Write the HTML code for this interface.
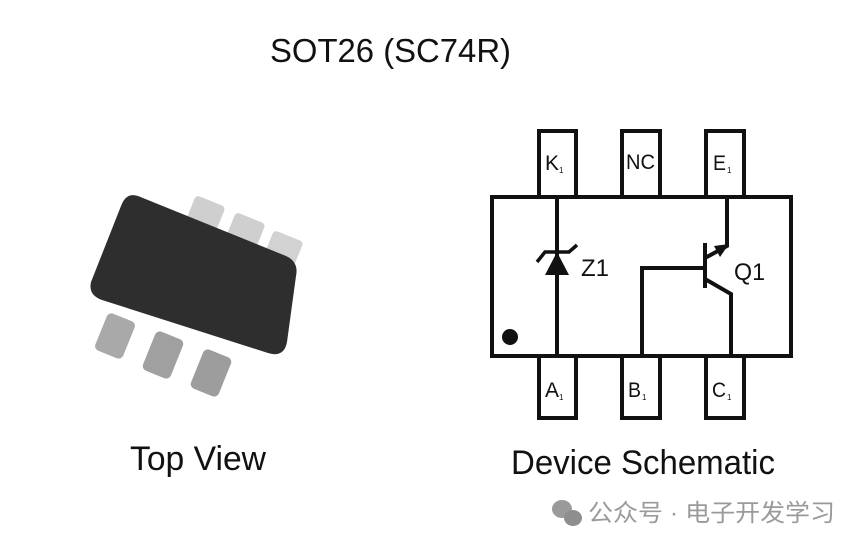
<!DOCTYPE html>
<html><head><meta charset="utf-8"><style>
html,body{margin:0;padding:0;background:#fff;}
svg{display:block;}
text{font-family:"Liberation Sans",Arial,sans-serif;}
</style></head><body>
<svg width="865" height="546" viewBox="0 0 865 546" xmlns="http://www.w3.org/2000/svg">
<rect width="865" height="546" fill="#fff"/>
<text x="270" y="62" font-size="33" textLength="241" lengthAdjust="spacingAndGlyphs" fill="#111">SOT26 (SC74R)</text>

<!-- chip photo -->
<g>
 <rect x="190" y="200" width="32" height="26" rx="4" fill="#cfcfcf" transform="rotate(22 206 213)"/>
 <rect x="230" y="217" width="32" height="26" rx="4" fill="#cfcfcf" transform="rotate(22 246 230)"/>
 <rect x="268" y="235" width="32" height="26" rx="4" fill="#d2d2d2" transform="rotate(22 284 248)"/>
 <rect x="100" y="316" width="30" height="40" rx="5" fill="#a9a9a9" transform="rotate(22 115 336)"/>
 <rect x="148" y="334" width="30" height="42" rx="5" fill="#a0a0a0" transform="rotate(22 163 355)"/>
 <rect x="196" y="352" width="30" height="42" rx="5" fill="#9d9d9d" transform="rotate(22 211 373)"/>
 <path d="M138,196 L286,256 Q299,262 296,276 L287,342 Q284,358 268,353 L102,300 Q88,295 91,282 L121,206 Q126,192 138,196 Z" fill="#2e2e2e"/>
</g>
<text x="130" y="470" font-size="34" textLength="136" lengthAdjust="spacingAndGlyphs" fill="#111">Top View</text>

<!-- schematic -->
<g fill="none" stroke="#111" stroke-width="4">
 <rect x="539" y="131" width="37" height="66" fill="#fff"/>
 <rect x="622" y="131" width="38" height="66" fill="#fff"/>
 <rect x="706" y="131" width="38" height="66" fill="#fff"/>
 <rect x="539" y="356" width="37" height="62" fill="#fff"/>
 <rect x="622" y="356" width="38" height="62" fill="#fff"/>
 <rect x="706" y="356" width="38" height="62" fill="#fff"/>
 <rect x="492" y="197" width="299" height="159" fill="#fff"/>
 <line x1="557" y1="197" x2="557" y2="356"/>
 <polyline points="537,262 545,252 569,252 577,245" stroke-width="3.5"/>
 <polyline points="642,356 642,268 705,268"/>
 <line x1="705" y1="243" x2="705" y2="288"/>
 <polyline points="705,258 727,246 727,197"/>
 <polyline points="705,279 731,294 731,356"/>
</g>
<polygon points="557,252 545,275 569,275" fill="#111"/>
<polygon points="729,244 714,246 720,257" fill="#111"/>
<circle cx="510" cy="337" r="8" fill="#111"/>
<g fill="#111" font-size="21">
 <text x="545" y="170" textLength="14" lengthAdjust="spacingAndGlyphs">K</text><text x="559" y="173" font-size="8">1</text>
 <text x="626" y="169" textLength="29" lengthAdjust="spacingAndGlyphs">NC</text>
 <text x="713" y="170" textLength="13" lengthAdjust="spacingAndGlyphs">E</text><text x="727" y="173" font-size="8">1</text>
 <text x="545" y="397" textLength="14" lengthAdjust="spacingAndGlyphs">A</text><text x="559" y="400" font-size="8">1</text>
 <text x="628" y="397" textLength="13" lengthAdjust="spacingAndGlyphs">B</text><text x="642" y="400" font-size="8">1</text>
 <text x="712" y="397" textLength="14" lengthAdjust="spacingAndGlyphs">C</text><text x="727" y="400" font-size="8">1</text>
</g>
<text x="581" y="276" font-size="24" textLength="28" lengthAdjust="spacingAndGlyphs" fill="#111">Z1</text>
<text x="734" y="280" font-size="24" textLength="31" lengthAdjust="spacingAndGlyphs" fill="#111">Q1</text>
<text x="511" y="474" font-size="34" textLength="264" lengthAdjust="spacingAndGlyphs" fill="#111">Device Schematic</text>

<!-- watermark -->
<g fill="#9a9a9a">
 <ellipse cx="562" cy="509" rx="10" ry="9"/>
 <ellipse cx="573" cy="518" rx="9" ry="8" fill="#8e8e8e"/>
</g>
<text x="588" y="521" font-size="24" textLength="247" lengthAdjust="spacingAndGlyphs" fill="#9a9a9a" style='font-family:"Liberation Sans","Noto Sans CJK SC",sans-serif'>公众号 · 电子开发学习</text>
</svg>
</body></html>
